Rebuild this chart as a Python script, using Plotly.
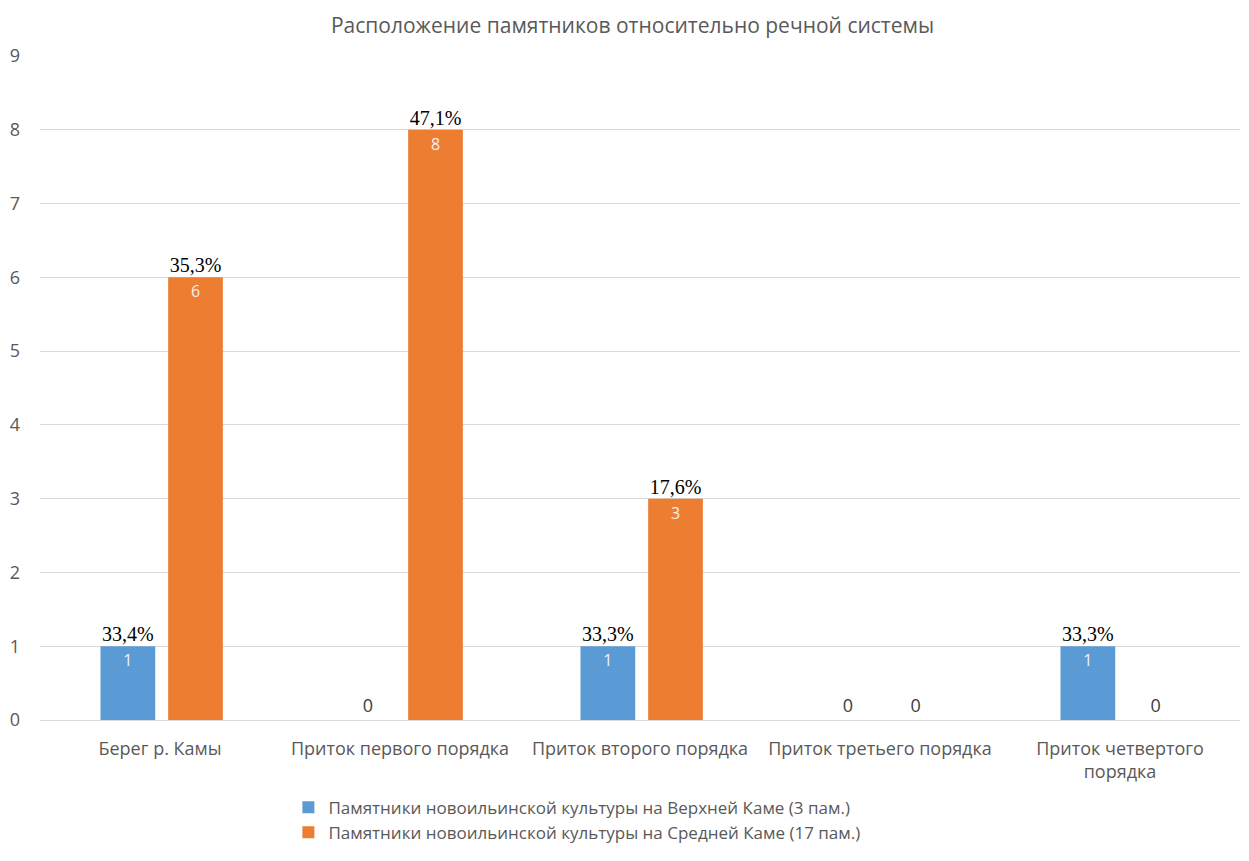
import plotly.graph_objects as go

categories = ["Берег р. Камы", "Приток первого порядка", "Приток второго порядка",
              "Приток третьего порядка", "Приток четвертого<br>порядка"]
upper_name = "Памятники новоильинской культуры на Верхней Каме (3 пам.)"
middle_name = "Памятники новоильинской культуры на Средней Каме (17 пам.)"
upper_vals = [1, 0, 1, 0, 1]
middle_vals = [6, 8, 3, 0, 0]
upper_pct = ["33,4%", "", "33,3%", "", "33,3%"]
middle_pct = ["35,3%", "47,1%", "17,6%", "", ""]
y_ticks = [0, 1, 2, 3, 4, 5, 6, 7, 8, 9]

BLUE = "#5B9BD5"
ORANGE = "#ED7D31"
GREY = "#595959"
FONT = "Open Sans"
SERIF = "Liberation Serif"

idx = list(range(len(categories)))
W = 0.228
OFF_U = -0.248
OFF_M = 0.034

def bar(vals, name, color, off):
    return go.Bar(
        x=idx, y=vals, name=name, marker=dict(color=color, line=dict(width=0)),
        width=W, offset=off,
        text=[str(v) for v in vals],
        textposition=["inside" if v > 0 else "outside" for v in vals],
        insidetextanchor="end",
        textfont=dict(family=FONT, size=[16 if v > 0 else 18 for v in vals],
                      color=["#F2F2F2" if v > 0 else "#404040" for v in vals]),
        cliponaxis=False, hoverinfo="skip",
    )

def pct(vals, labels, off):
    xs, ys, ts = [], [], []
    for i, (v, t) in enumerate(zip(vals, labels)):
        if t:
            xs.append(i + off + W / 2)
            ys.append(v)
            ts.append(t)
    return go.Scatter(x=xs, y=ys, text=ts, mode="text", textposition="top center",
                      textfont=dict(family=SERIF, size=20, color="#000000"),
                      showlegend=False, hoverinfo="skip", cliponaxis=False)

fig = go.Figure()
fig.add_trace(bar(upper_vals, upper_name, BLUE, OFF_U))
fig.add_trace(bar(middle_vals, middle_name, ORANGE, OFF_M))
fig.add_trace(pct(upper_vals, upper_pct, OFF_U))
fig.add_trace(pct(middle_vals, middle_pct, OFF_M))

fig.update_layout(
    width=1249, height=861,
    paper_bgcolor="white", plot_bgcolor="white",
    margin=dict(l=32, r=17, t=48, b=149, autoexpand=False),
    title=dict(text="Расположение памятников относительно речной системы",
               x=0.5, xanchor="center", y=0.980, yanchor="middle",
               font=dict(family=FONT, size=21, color=GREY)),
    xaxis=dict(tickmode="array", tickvals=idx, ticktext=categories,
               range=[-0.5, len(categories) - 0.5], showgrid=False,
               showline=True, linecolor="#D9D9D9", linewidth=1, automargin=False,
               ticks="", ticklabelstandoff=12,
               tickfont=dict(family=FONT, size=18, color=GREY), zeroline=False),
    yaxis=dict(range=[0, 9], tickvals=y_ticks, showgrid=True, gridcolor="#D9D9D9",
               zeroline=False, ticks="", showline=False, automargin=False,
               ticklabelstandoff=19,
               tickfont=dict(family=FONT, size=18, color=GREY)),
    legend=dict(orientation="v", x=0.207, xanchor="left", y=-0.105, yanchor="top",
                font=dict(family=FONT, size=17, color=GREY), itemwidth=30,
                tracegroupgap=4),
    showlegend=True,
)

fig.write_html("out.html")
